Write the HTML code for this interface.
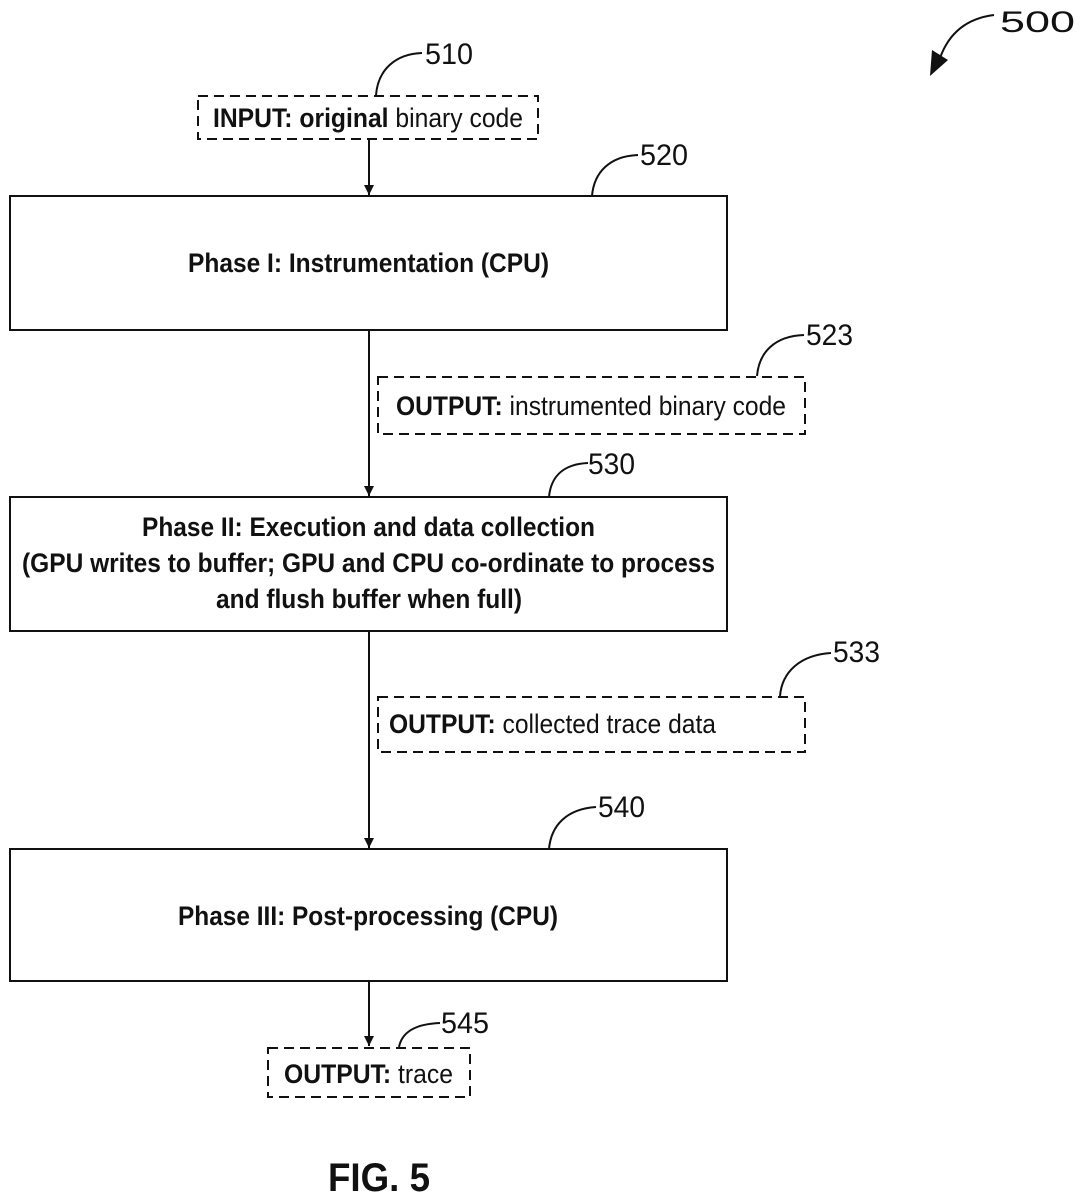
<!DOCTYPE html>
<html><head><meta charset="utf-8"><style>body{margin:0;background:#fff}svg{display:block}text{font-family:"Liberation Sans",sans-serif;fill:#111}</style></head><body>
<svg width="1084" height="1200" viewBox="0 0 1084 1200" xmlns="http://www.w3.org/2000/svg">
<defs><marker id="a" markerWidth="12" markerHeight="12" refX="10" refY="5" orient="auto" markerUnits="userSpaceOnUse"><path d="M0,0 L10,5 L0,10 Z" fill="#111"/></marker></defs>
<g stroke="#111" stroke-width="2" fill="none">
<rect x="10" y="196" width="717" height="134"/>
<rect x="10" y="497" width="717" height="134"/>
<rect x="10" y="849" width="717" height="132"/>
<g stroke-dasharray="10,6">
<rect x="198" y="96" width="340" height="43"/>
<rect x="378" y="377" width="427" height="57"/>
<rect x="378" y="697" width="427" height="55"/>
<rect x="268" y="1048" width="202" height="49"/>
</g>
<line x1="369" y1="139" x2="369" y2="195" marker-end="url(#a)"/>
<line x1="369" y1="330" x2="369" y2="496" marker-end="url(#a)"/>
<line x1="369" y1="631" x2="369" y2="848" marker-end="url(#a)"/>
<line x1="369" y1="981" x2="369" y2="1046" marker-end="url(#a)"/>
<path d="M376,95 C378,70 395,54 422,53"/>
<path d="M592,196 C594,172 610,156 638,155"/>
<path d="M757,376 C759,352 775,336 804,335"/>
<path d="M549,497 C551,475 565,464 588,463"/>
<path d="M780,696 C782,672 800,655 831,653"/>
<path d="M549,849 C551,826 566,809 596,807"/>
<path d="M399,1047 C402,1032 415,1024 440,1023"/>
<path d="M994,15 C970,18 950,30 940,58"/>
</g>
<path d="M930,76 L932,50 L948,60 Z" fill="#111"/>
<g font-size="30">
<text x="1000" y="32" textLength="75" lengthAdjust="spacingAndGlyphs">500</text>
<text x="425" y="64" textLength="48" lengthAdjust="spacingAndGlyphs">510</text>
<text x="640" y="165" textLength="48" lengthAdjust="spacingAndGlyphs">520</text>
<text x="806" y="345" textLength="47" lengthAdjust="spacingAndGlyphs">523</text>
<text x="588" y="474" textLength="47" lengthAdjust="spacingAndGlyphs">530</text>
<text x="833" y="662" textLength="47" lengthAdjust="spacingAndGlyphs">533</text>
<text x="598" y="817" textLength="47" lengthAdjust="spacingAndGlyphs">540</text>
<text x="441" y="1033" textLength="48" lengthAdjust="spacingAndGlyphs">545</text>
</g>
<g font-size="27">
<text x="213" y="127" textLength="310" lengthAdjust="spacingAndGlyphs"><tspan font-weight="bold">INPUT: original</tspan> binary code</text>
<text x="396" y="415" textLength="390" lengthAdjust="spacingAndGlyphs"><tspan font-weight="bold">OUTPUT:</tspan> instrumented binary code</text>
<text x="389" y="733" textLength="327" lengthAdjust="spacingAndGlyphs"><tspan font-weight="bold">OUTPUT:</tspan> collected trace data</text>
<text x="284" y="1083" textLength="169" lengthAdjust="spacingAndGlyphs"><tspan font-weight="bold">OUTPUT:</tspan> trace</text>
<g font-weight="bold">
<text x="188" y="272" textLength="361" lengthAdjust="spacingAndGlyphs">Phase I: Instrumentation (CPU)</text>
<text x="142" y="536" textLength="453" lengthAdjust="spacingAndGlyphs">Phase II: Execution and data collection</text>
<text x="22" y="572" textLength="693" lengthAdjust="spacingAndGlyphs">(GPU writes to buffer; GPU and CPU co-ordinate to process</text>
<text x="216" y="608" textLength="306" lengthAdjust="spacingAndGlyphs">and flush buffer when full)</text>
<text x="178" y="925" textLength="380" lengthAdjust="spacingAndGlyphs">Phase III: Post-processing (CPU)</text>
<text x="328" y="1191" font-size="40" textLength="102" lengthAdjust="spacingAndGlyphs">FIG. 5</text>
</g>
</g>
</svg>
</body></html>
